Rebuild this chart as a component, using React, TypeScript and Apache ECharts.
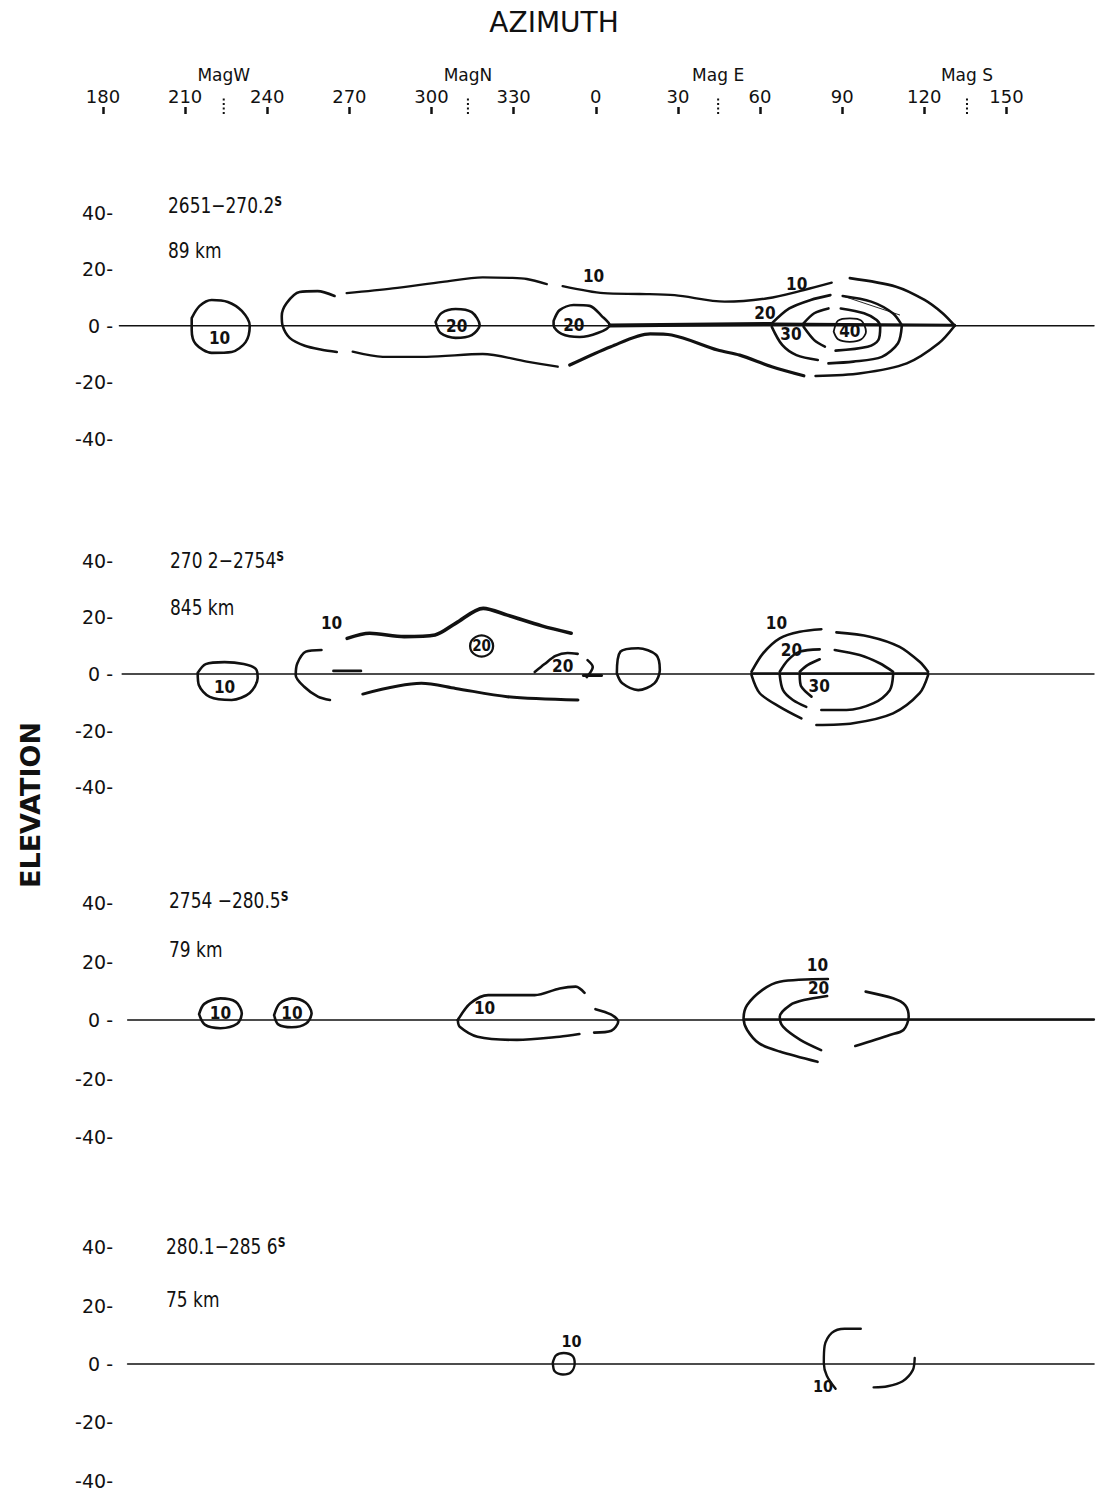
import React, { useEffect, useRef } from 'react';
import * as echarts from 'echarts';

type Pt = [number, number];
type Lbl = [number, number, number];

const INK = '#111111';
const GEO = '"DejaVu Sans", "Liberation Sans", sans-serif';
const NARROW = '"Liberation Sans Narrow", "DejaVu Sans Condensed", Roboto, sans-serif';

// Azimuth in degrees, unwrapped past 360 so the sweep reads 180 ... 360(0) ... 150
const AZ_MIN = 180;
const AZ_MAX = 542;
const AZ_TICK_MAX = 510;
const AZ_STEP = 30;
const EL_MIN = -40;
const EL_MAX = 40;
const EL_STEP = 20;

const MAG_NAMES = ['MagW', 'MagN', 'Mag E', 'Mag S'];
const MAG_AZ = [224.1, 313.3, 404.7, 495.6];

const PANEL_TIMES = ['2651−270.2', '270 2−2754', '2754 −280.5', '280.1−285 6'];
const PANEL_RANGES = ['89 km', '845 km', '79 km', '75 km'];
const HORIZON_START = [186, 187, 189, 189];

// ---- 265.1–270.2 s ----
const P1_WEST_10: Pt[] = [[212.4, 2.7], [215.3, 7.0], [219.7, 9.1], [225.6, 8.4], [230.7, 5.2], [233.6, 0], [232.1, -5.8], [227.0, -9.3], [219.7, -9.6], [213.9, -6.5], [212.4, -1.5], [212.4, 2.7]];
const P1_ARC_W: Pt[] = [[264.6, 10.5], [258.4, 12.2], [251.8, 11.9], [247.1, 8.0], [245.3, 3.4], [245.6, 0], [248.2, -4.3], [253.7, -7.1], [259.9, -8.5], [265.4, -9.3]];
const P1_UPPER_A: Pt[] = [[269.0, 11.5], [285.8, 13.2], [304.1, 15.5], [318.7, 17.1], [328.6, 16.9], [334.8, 16.5], [342.1, 14.7]];
const P1_UPPER_B: Pt[] = [[347.9, 14.0], [362.9, 11.5], [376.0, 11.2], [388.8, 10.8], [407.1, 8.5], [422.8, 9.7], [436.0, 12.6], [446.2, 15.2]];
const P1_LOWER_A: Pt[] = [[271.2, -9.2], [282.2, -11.0], [298.2, -11.0], [318.7, -10.0], [334.8, -12.7], [346.1, -14.5]];
const P1_LOWER_B: Pt[] = [[350.5, -13.9], [365.5, -7.4], [379.9, -2.9], [387.7, -3.3], [404.5, -8.6], [412.6, -10.4], [424.3, -14.5], [436.0, -17.7]];
const P1_OUTER_EU: Pt[] = [[452.8, 16.8], [469.7, 13.8], [480.1, 9.1], [486.7, 4.4], [491.1, 0]];
const P1_OUTER_EL: Pt[] = [[491.1, 0], [485.3, -6.2], [473.6, -13.3], [456.8, -16.8], [440.3, -17.8]];
const P1_LOOP_20A: Pt[] = [[301.5, 1.3], [303.7, 4.5], [308.8, 5.9], [314.7, 4.8], [317.6, 0.2], [314.7, -3.3], [308.8, -4.3], [303.3, -2.6], [301.5, 1.3]];
const P1_LOOP_20B: Pt[] = [[344.6, 1.7], [346.8, 5.5], [351.9, 7.3], [357.8, 7.0], [362.2, 3.4], [365.1, 0.2], [360.7, -2.6], [354.1, -4.0], [347.5, -2.9], [344.6, 0.2], [344.6, 1.7]];
const P1_RIDGE: Pt[] = [[365.1, 0.1], [424.3, 0.6]];
const P1_RIDGE_E: Pt[] = [[424.3, 0.6], [491.1, 0.2]];
const P1_IN20_U: Pt[] = [[424.3, 0.8], [430.7, 6.1], [438.5, 9.1], [445.7, 10.8]];
const P1_IN20_L: Pt[] = [[424.3, -0.4], [428.1, -6.8], [433.3, -10.4], [441.1, -12.1]];
const P1_E20_U: Pt[] = [[450.2, 10.5], [460.6, 8.5], [468.5, 4.4], [471.8, 0.2]];
const P1_E20_L: Pt[] = [[471.8, 0], [470.4, -6.2], [464.5, -11.0], [454.1, -12.7], [445.0, -13.3]];
const P1_IN30_U: Pt[] = [[435.9, 0.8], [439.8, 4.4], [445.0, 6.1]];
const P1_IN30_L: Pt[] = [[435.9, -0.4], [439.8, -5.1], [443.7, -7.4]];
const P1_E30: Pt[] = [[449.5, 6.1], [458.0, 4.4], [462.6, 2.0], [463.9, -0.4], [463.2, -5.1], [459.3, -7.4], [447.6, -8.8]];
const P1_CORE_40: Pt[] = [[446.9, -2.1], [448.5, 1.8], [452.8, 2.6], [457.0, 1.8], [458.7, -2.1], [457.0, -4.8], [452.8, -5.7], [448.5, -4.8], [446.9, -2.1]];
const P1_FAINT: Pt[] = [[450.2, 10.5], [471.0, 3.8]];
const P1_LABELS: Lbl[] = [[222.6, -4.2, 10], [309.2, 0, 20], [352.0, 0.4, 20], [359.2, 17.7, 10], [433.4, 14.7, 10], [421.8, 4.4, 20], [431.3, -2.9, 30], [452.8, -1.9, 40]];

// ---- 270.2–275.4 s ----
const P2_WEST_10: Pt[] = [[214.6, 0.4], [217.5, 3.5], [224.4, 4.2], [231.4, 3.5], [235.8, 1.8], [236.5, -1.4], [233.6, -6.7], [227.0, -9.2], [219.0, -8.1], [215.0, -3.9], [214.6, 0.4]];
const P2_ARC_W: Pt[] = [[259.8, 8.5], [254.1, 7.9], [251.0, 3.8], [250.4, -0.4], [253.5, -4.5], [258.5, -8.0], [262.9, -9.2]];
const P2_DASH: Pt[] = [[264.2, 1.1], [274.2, 1.1]];
const P2_UPPER: Pt[] = [[269.2, 12.6], [277.4, 14.4], [290.0, 13.2], [301.3, 13.8], [308.8, 17.9], [318.9, 23.2], [327.7, 20.8], [340.3, 17.0], [351.0, 14.4]];
const P2_LOWER: Pt[] = [[274.9, -7.1], [296.3, -3.3], [308.8, -5.1], [327.7, -8.0], [353.5, -9.2]];
const P2_DOME_20: Pt[] = [[337.7, 0.7], [341.3, 3.5], [345.3, 6.4], [349.7, 7.4], [353.4, 7.1]];
const P2_HOOK: Pt[] = [[357.0, 4.9], [358.9, 2.5], [356.7, -1.1]];
const P2_STUB: Pt[] = [[355.5, -0.5], [362.1, -0.5]];
const P2_LOOP: Pt[] = [[367.7, 0.2], [369.0, 7.9], [375.5, 9.1], [382.1, 6.7], [383.4, 1.4], [381.4, -3.3], [375.5, -5.7], [369.7, -3.3], [367.7, 0.2]];
const P2_RIDGE: Pt[] = [[416.9, 0.2], [481.4, 0.2]];
const P2_E10_UL: Pt[] = [[416.9, 0.8], [421.1, 7.3], [427.2, 12.6], [434.5, 14.9], [442.4, 15.8]];
const P2_E10_LL: Pt[] = [[416.9, -0.4], [419.9, -6.8], [427.2, -11.6], [435.1, -15.7]];
const P2_E10_UR: Pt[] = [[447.9, 14.7], [460.1, 13.2], [471.0, 9.6], [478.3, 4.3], [481.4, 0.8]];
const P2_E10_LR: Pt[] = [[481.4, -0.4], [478.3, -6.8], [468.6, -13.9], [454.0, -17.4], [440.6, -18.0]];
const P2_E20_UL: Pt[] = [[427.2, 0.8], [430.2, 4.9], [434.5, 7.9], [441.8, 8.7]];
const P2_E20_LL: Pt[] = [[427.2, -0.4], [428.4, -5.7], [432.0, -9.2], [436.9, -11.6]];
const P2_E20_UR: Pt[] = [[447.3, 8.5], [456.4, 6.7], [463.7, 3.8], [468.6, 0.8]];
const P2_E20_LR: Pt[] = [[468.6, -0.4], [467.4, -5.7], [461.3, -10.4], [451.6, -12.7], [442.4, -12.7]];
const P2_E30_U: Pt[] = [[434.5, 0.8], [437.5, 3.2], [441.8, 5.2]];
const P2_E30_L: Pt[] = [[434.5, -0.4], [435.1, -4.5], [438.8, -8.0]];
const P2_LABELS: Lbl[] = [[224.4, -4.6, 10], [263.5, 17.9, 10], [347.9, 2.8, 20], [426.0, 17.9, 10], [431.5, 8.5, 20], [441.6, -4.2, 30]];
const P2_CIRCLED: Lbl[] = [[318.3, 9.9, 20]];

// ---- 275.4–280.5 s ----
const P3_WEST_10A: Pt[] = [[215.1, 2.0], [217.0, 5.5], [222.9, 7.4], [228.5, 6.2], [230.7, 2.3], [229.0, -1.3], [222.9, -2.8], [217.2, -1.6], [215.1, 2.0]];
const P3_WEST_10B: Pt[] = [[242.5, 1.7], [244.5, 5.6], [249.0, 7.4], [254.0, 6.0], [256.2, 2.3], [254.2, -1.2], [249.0, -2.5], [244.0, -1.5], [242.5, 1.7]];
const P3_NORTH_U: Pt[] = [[309.6, 0], [314.2, 5.7], [320.7, 8.5], [337.7, 8.5], [346.8, 10.8], [352.7, 11.4], [355.9, 9.3]];
const P3_NORTH_L: Pt[] = [[309.6, 0], [310.3, -2.3], [316.8, -5.7], [331.2, -6.8], [346.8, -5.7], [354.0, -4.8]];
const P3_HOOK: Pt[] = [[359.9, 3.7], [365.5, 1.9], [368.2, -0.6], [365.7, -3.7], [359.4, -4.3]];
const P3_ARC_10: Pt[] = [[444.8, 14.0], [427.2, 13.1], [420.9, 10.3], [415.3, 5.1], [414.0, 0.6], [415.3, -3.4], [419.7, -8.0], [427.2, -10.8], [441.0, -14.3]];
const P3_ARC_20: Pt[] = [[444.5, 8.2], [436.0, 6.8], [431.0, 5.1], [427.2, 1.1], [428.4, -2.3], [434.7, -6.8], [442.3, -10.3]];
const P3_ARC_E: Pt[] = [[458.6, 9.7], [468.6, 7.4], [473.0, 5.1], [474.3, 1.1], [472.4, -3.4], [467.4, -5.1], [454.8, -8.9]];
const P3_RIDGE: Pt[] = [[414.0, 0.2], [542, 0.2]];
const P3_LABELS: Lbl[] = [[222.9, 2.3, 10], [249.0, 2.3, 10], [319.4, 4.0, 10], [441.0, 18.7, 10], [441.4, 11.1, 20]];

// ---- 280.1–285.6 s ----
const P4_LOOP: Pt[] = [[344.3, 0.5], [345.5, 3.0], [348.3, 3.8], [351.5, 2.8], [352.3, 0.2], [351.0, -2.8], [348.0, -3.6], [345.0, -2.5], [344.3, 0.5]];
const P4_ARC: Pt[] = [[456.8, 12.1], [450.9, 12.1], [446.2, 10.7], [443.6, 6.3], [443.3, 0.4], [444.4, -4.0], [447.6, -8.5]];
const P4_HOOK: Pt[] = [[476.5, 2.1], [475.8, -2.1], [472.1, -5.9], [466.6, -7.6], [461.5, -8.0]];
const P4_LABELS: Lbl[] = [[351.1, 7.6, 10], [443.0, -7.6, 10]];

// layout of the four elevation strips (pixels)
const GRID_LEFT = 103;
const PX_PER_DEG = 2.7376;
const PANEL_BOX = [
  { top: 212.5, height: 226.4 },
  { top: 560.8, height: 226.4 },
  { top: 903, height: 234 },
  { top: 1247.4, height: 233.3 },
];

function buildOption() {
  const series: any[] = [];
  const line = (g: number, pts: Pt[], width = 2.6, smooth: number = 0.3) => {
    series.push({
      type: 'line', xAxisIndex: g, yAxisIndex: g, data: pts, smooth, symbol: 'none', silent: true,
      lineStyle: { color: INK, width, cap: 'round', join: 'round' }, z: 3,
    });
  };
  const labels = (g: number, items: Lbl[], size = 17) => {
    series.push({
      type: 'scatter', xAxisIndex: g, yAxisIndex: g, data: items, symbolSize: 1, silent: true, z: 6,
      itemStyle: { color: 'rgba(0,0,0,0)', opacity: 1 },
      label: {
        show: true, position: 'inside', formatter: (p: any) => String(p.value[2]),
        fontFamily: NARROW, fontSize: size, fontWeight: 'bold', color: INK,
      },
    });
  };

  // top azimuth strip: magnetic directions
  MAG_AZ.forEach((az) => {
    series.push({
      type: 'line', xAxisIndex: 0, yAxisIndex: 0, data: [[az, 0], [az, 0.33]], symbol: 'none', silent: true,
      lineStyle: { color: INK, width: 2, type: [2, 2.5] },
    });
  });
  series.push({
    type: 'scatter', xAxisIndex: 0, yAxisIndex: 0, silent: true, symbolSize: 1,
    data: MAG_AZ.map((az, i) => ({ value: [az, 0.72], name: MAG_NAMES[i] })),
    itemStyle: { color: 'rgba(0,0,0,0)', opacity: 1 },
    label: { show: true, position: 'inside', formatter: (p: any) => p.name, fontFamily: GEO, fontSize: 17, color: INK },
  });

  // horizon lines
  HORIZON_START.forEach((s, i) => line(i + 1, [[s, 0], [AZ_MAX, 0]], i === 3 ? 1.6 : 1.4, 0));

  // strip 1
  [P1_WEST_10, P1_ARC_W, P1_LOOP_20A, P1_LOOP_20B, P1_IN20_U, P1_IN20_L, P1_E20_U, P1_E20_L,
    P1_IN30_U, P1_IN30_L, P1_E30, P1_OUTER_EU, P1_OUTER_EL].forEach((p) => line(1, p, 2.6));
  [P1_UPPER_A, P1_UPPER_B, P1_LOWER_A].forEach((p) => line(1, p, 2.3));
  line(1, P1_LOWER_B, 3.2);
  line(1, P1_CORE_40, 1.8);
  line(1, P1_RIDGE, 4, 0);
  line(1, P1_RIDGE_E, 2.8, 0);
  line(1, P1_FAINT, 0.9, 0);
  labels(1, P1_LABELS);

  // strip 2
  [P2_WEST_10, P2_ARC_W, P2_DOME_20, P2_HOOK, P2_LOOP, P2_E10_UL, P2_E10_LL, P2_E10_UR, P2_E10_LR,
    P2_E20_UL, P2_E20_LL, P2_E20_UR, P2_E20_LR, P2_E30_U, P2_E30_L].forEach((p) => line(2, p, 2.6));
  line(2, P2_UPPER, 3.6);
  line(2, P2_LOWER, 3);
  line(2, P2_DASH, 2.8, 0);
  line(2, P2_STUB, 3, 0);
  line(2, P2_RIDGE, 2.6, 0);
  labels(2, P2_LABELS);
  series.push({
    type: 'scatter', xAxisIndex: 2, yAxisIndex: 2, data: P2_CIRCLED, symbol: 'circle', symbolSize: [23, 21], silent: true, z: 6,
    itemStyle: { color: '#ffffff', borderColor: INK, borderWidth: 2.2, opacity: 1 },
    label: { show: true, position: 'inside', formatter: (p: any) => String(p.value[2]), fontFamily: NARROW, fontSize: 15, fontWeight: 'bold', color: INK },
  });

  // strip 3
  [P3_WEST_10A, P3_WEST_10B, P3_NORTH_U, P3_NORTH_L, P3_HOOK, P3_ARC_10, P3_ARC_20, P3_ARC_E].forEach((p) => line(3, p, 2.6));
  line(3, P3_RIDGE, 2.2, 0);
  labels(3, P3_LABELS);

  // strip 4
  [P4_LOOP, P4_ARC, P4_HOOK].forEach((p) => line(4, p, 2.4));
  labels(4, P4_LABELS, 16);

  const grids: any[] = [{ left: GRID_LEFT, top: 60, width: (AZ_TICK_MAX - AZ_MIN) * PX_PER_DEG, height: 54 }];
  PANEL_BOX.forEach((b) => grids.push({ left: GRID_LEFT, top: b.top, width: (AZ_MAX - AZ_MIN) * PX_PER_DEG, height: b.height }));

  const xAxes: any[] = [{
    type: 'value', gridIndex: 0, min: AZ_MIN, max: AZ_TICK_MAX, interval: AZ_STEP,
    axisLine: { show: false }, splitLine: { show: false },
    axisTick: { show: true, inside: true, length: 7, lineStyle: { color: INK, width: 2.5 } },
    axisLabel: { show: true, inside: true, margin: 9, formatter: (v: number) => String(v % 360), fontFamily: GEO, fontSize: 18, color: INK },
  }];
  const yAxes: any[] = [{ type: 'value', gridIndex: 0, min: 0, max: 1, show: false }];
  PANEL_BOX.forEach((_, i) => {
    xAxes.push({ type: 'value', gridIndex: i + 1, min: AZ_MIN, max: AZ_MAX, show: false });
    yAxes.push({
      type: 'value', gridIndex: i + 1, min: EL_MIN, max: EL_MAX, interval: EL_STEP, offset: -10,
      axisLine: { show: false }, axisTick: { show: false }, splitLine: { show: false },
      axisLabel: { margin: 0, formatter: (v: number) => (v === 0 ? '0 -' : `${v}-`), fontFamily: GEO, fontSize: 19, color: INK },
    });
  });

  const graphic: any[] = [
    { type: 'text', x: 554, y: 22, style: { text: 'AZIMUTH', align: 'center', verticalAlign: 'middle', fontFamily: GEO, fontSize: 28, fill: INK } },
    { type: 'text', x: 30, y: 805, rotation: Math.PI / 2, style: { text: 'ELEVATION', align: 'center', verticalAlign: 'middle', fontFamily: GEO, fontSize: 27, fontWeight: 'bold', fill: INK } },
  ];
  const annoX = [168, 170, 169, 166];
  const annoY = [194, 549, 889, 1235];
  const kmY = [239, 596, 938, 1288];
  PANEL_TIMES.forEach((t, i) => {
    graphic.push({
      type: 'text', x: annoX[i], y: annoY[i], scaleX: 0.86,
      style: {
        text: `{t|${t}}{s|S}`, align: 'left', verticalAlign: 'top', fill: INK,
        rich: {
          t: { fontFamily: NARROW, fontSize: 22, fill: INK, verticalAlign: 'bottom' },
          s: { fontFamily: NARROW, fontSize: 14, fontWeight: 'bold', fill: INK, verticalAlign: 'top' },
        },
      },
    });
    graphic.push({
      type: 'text', x: annoX[i], y: kmY[i], scaleX: 0.86,
      style: { text: PANEL_RANGES[i], align: 'left', verticalAlign: 'top', fontFamily: NARROW, fontSize: 22, fill: INK },
    });
  });

  return {
    animation: false,
    backgroundColor: '#ffffff',
    grid: grids,
    xAxis: xAxes,
    yAxis: yAxes,
    series,
    graphic,
  };
}

export default function App() {
  const ref = useRef<HTMLDivElement>(null);
  useEffect(() => {
    if (!ref.current) return;
    const chart = echarts.init(ref.current, undefined, { renderer: 'svg' });
    chart.setOption(buildOption());
    return () => chart.dispose();
  }, []);
  return <div ref={ref} style={{ position: 'absolute', left: 0, top: 0, width: 1099, height: 1492 }} />;
}
